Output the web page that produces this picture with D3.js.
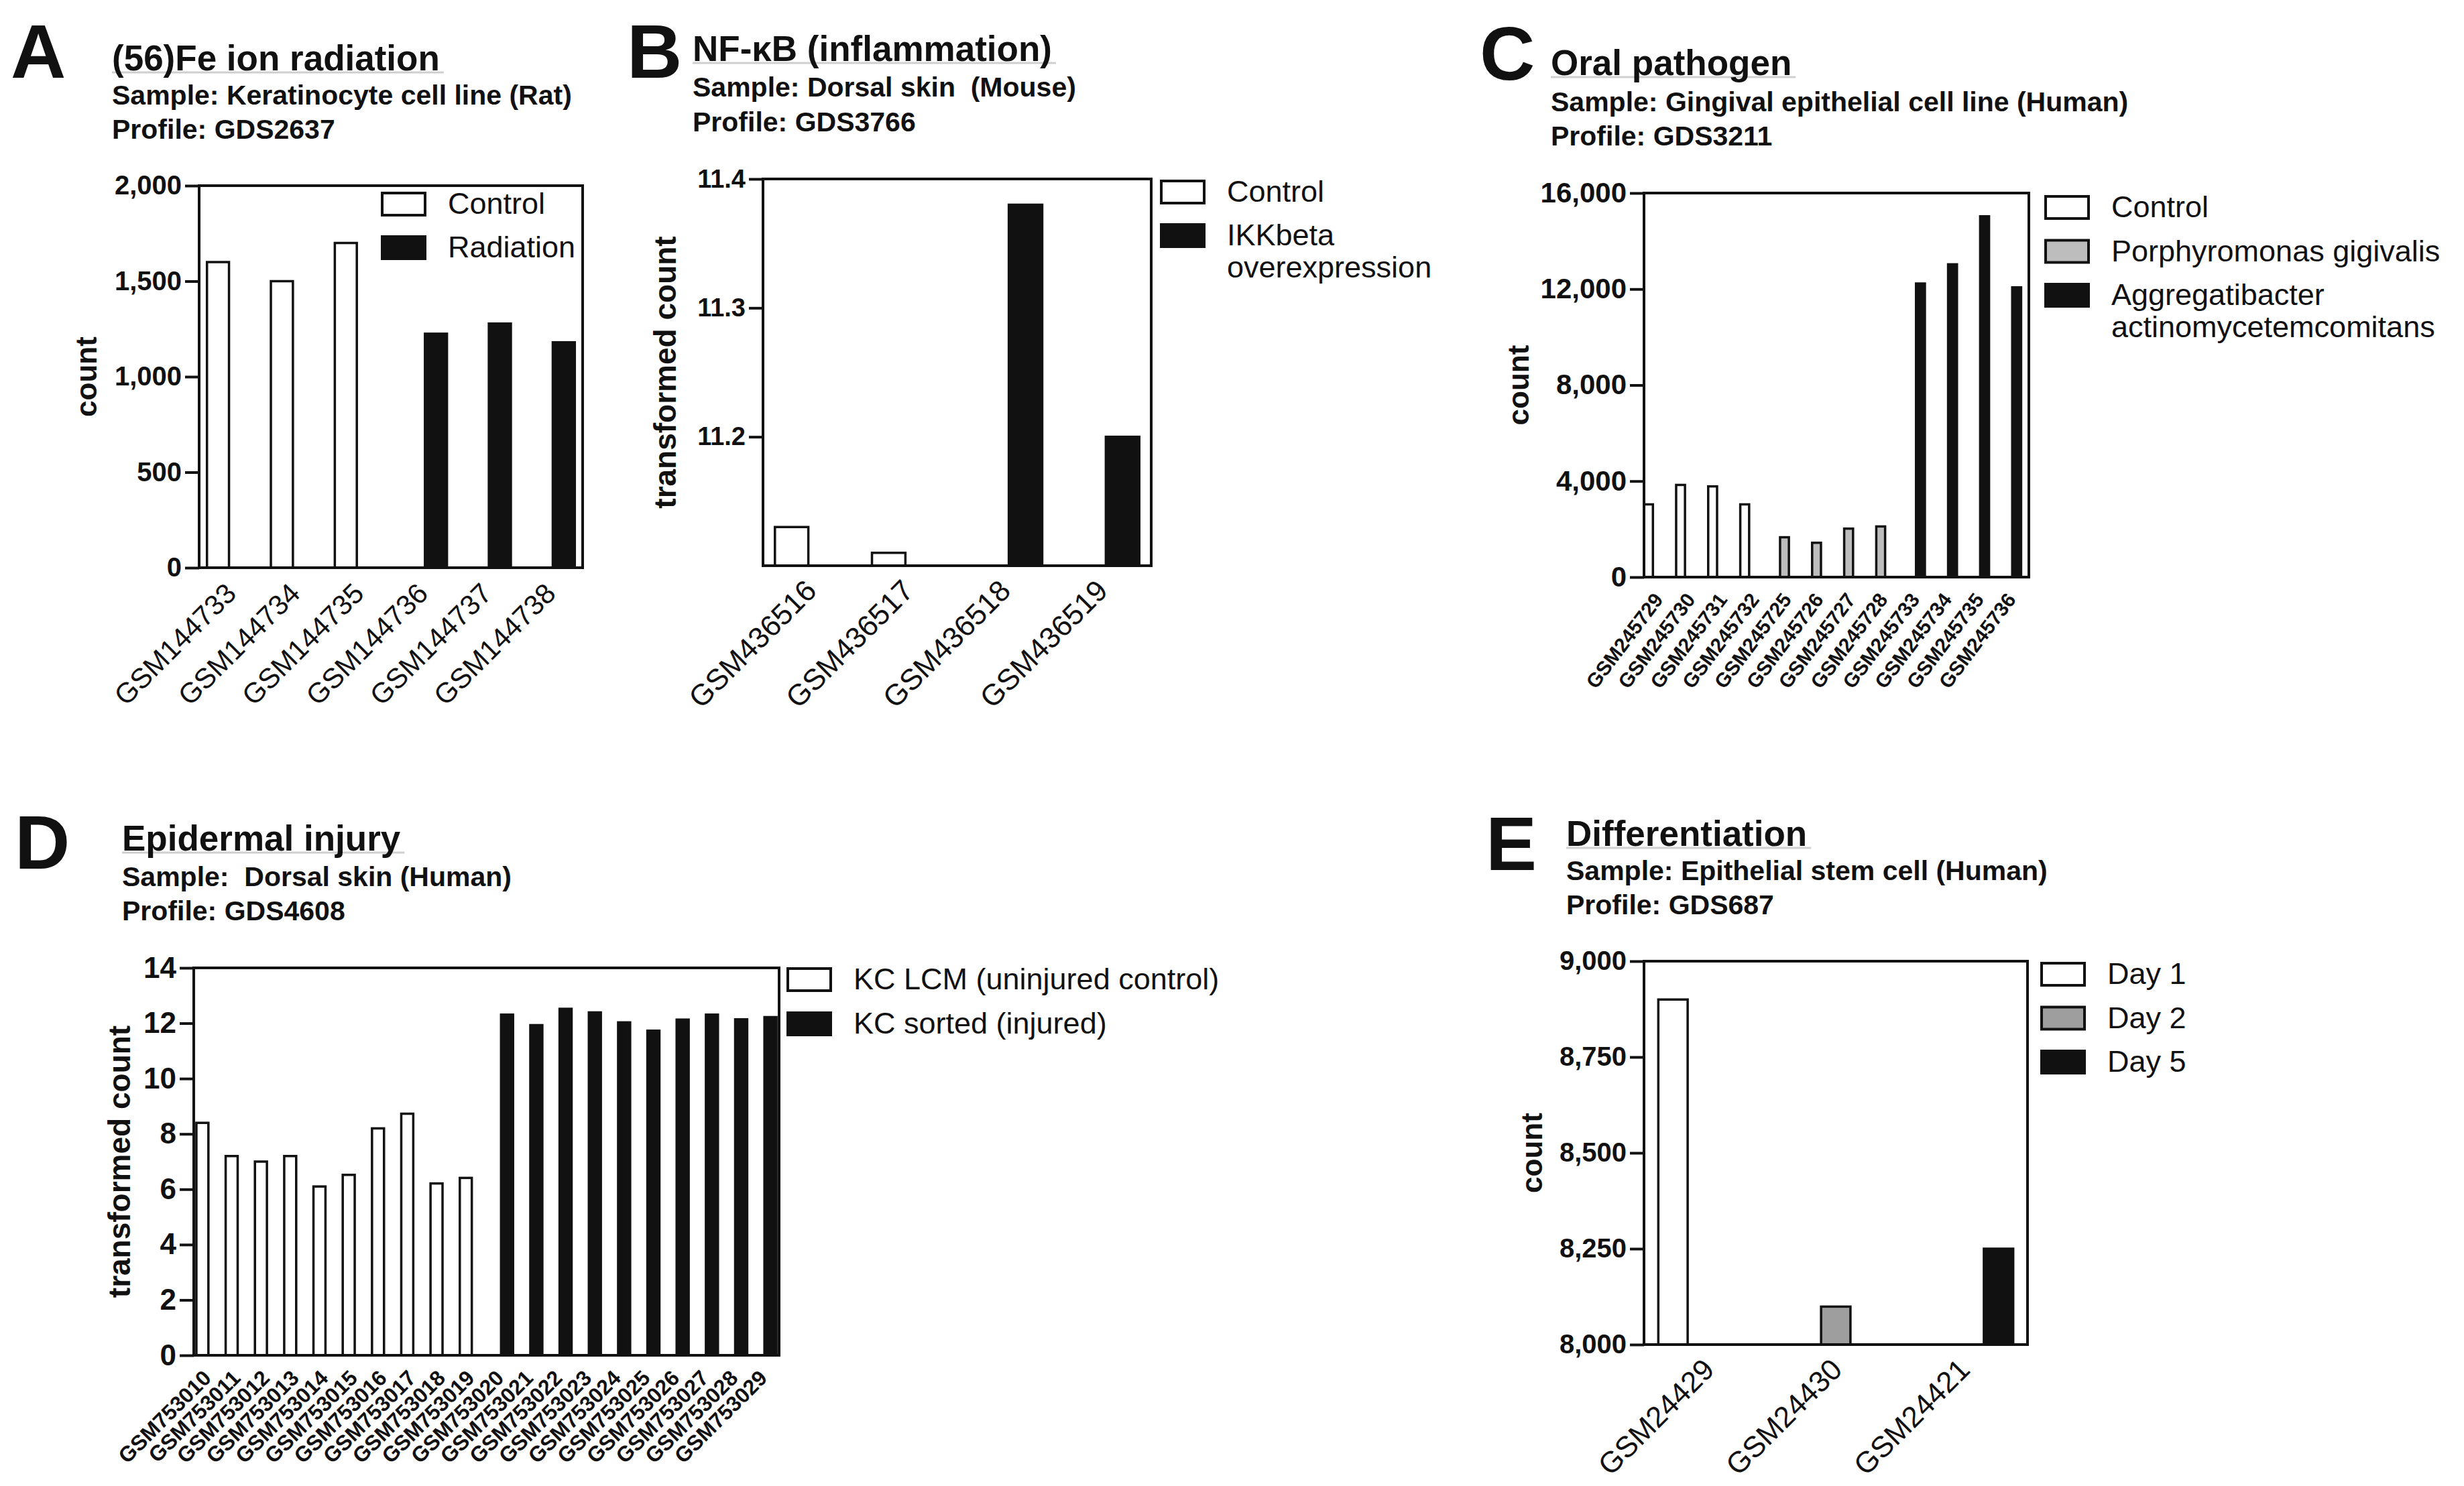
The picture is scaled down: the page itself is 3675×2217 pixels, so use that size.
<!DOCTYPE html>
<html>
<head>
<meta charset="utf-8">
<script src="https://cdn.jsdelivr.net/npm/d3@7"></script>
<style>
body { margin: 0; background: #fff; }
text { font-family: "Liberation Sans", Arial, sans-serif; fill: #111; white-space: pre; }
</style>
</head>
<body>
<svg id="fig"></svg>
<script>
'use strict'

// ---- A: (56)Fe ion radiation ----
var samplesA = ["GSM144733", "GSM144734", "GSM144735", "GSM144736", "GSM144737", "GSM144738"];
var groupsA = ["Control", "Radiation"];
var seriesA = ["Control", "Control", "Control", "Radiation", "Radiation", "Radiation"];
var valuesA = [1600, 1500, 1700, 1225, 1278, 1180];
var ticksA = [0, 500, 1000, 1500, 2000];

// ---- B: NF-kB ----
var samplesB = ["GSM436516", "GSM436517", "GSM436518", "GSM436519"];
var groupsB = ["Control", "IKKbeta\noverexpression"];
var seriesB = ["Control", "Control", "IKKbeta\noverexpression", "IKKbeta\noverexpression"];
var valuesB = [11.13, 11.11, 11.38, 11.20];
var ticksB = [11.2, 11.3, 11.4];

// ---- C: oral pathogen ----
var samplesC = ["GSM245729", "GSM245730", "GSM245731", "GSM245732", "GSM245725", "GSM245726",
	"GSM245727", "GSM245728", "GSM245733", "GSM245734", "GSM245735", "GSM245736"];
var groupsC = ["Control", "Porphyromonas gigivalis", "Aggregatibacter\nactinomycetemcomitans"];
var seriesC = ["Control", "Control", "Control", "Control",
	"Porphyromonas gigivalis", "Porphyromonas gigivalis", "Porphyromonas gigivalis", "Porphyromonas gigivalis",
	"Aggregatibacter\nactinomycetemcomitans", "Aggregatibacter\nactinomycetemcomitans",
	"Aggregatibacter\nactinomycetemcomitans", "Aggregatibacter\nactinomycetemcomitans"];
var valuesC = [3030, 3840, 3780, 3030, 1660, 1430, 2020, 2110, 12230, 13030, 15030, 12070];
var ticksC = [0, 4000, 8000, 12000, 16000];

// ---- D: epidermal injury ----
var samplesD = ["GSM753010", "GSM753011", "GSM753012", "GSM753013", "GSM753014", "GSM753015", "GSM753016",
	"GSM753017", "GSM753018", "GSM753019", "GSM753020", "GSM753021", "GSM753022", "GSM753023", "GSM753024",
	"GSM753025", "GSM753026", "GSM753027", "GSM753028", "GSM753029"];
var groupsD = ["KC LCM (uninjured control)", "KC sorted (injured)"];
var seriesD = ["KC LCM (uninjured control)", "KC LCM (uninjured control)", "KC LCM (uninjured control)",
	"KC LCM (uninjured control)", "KC LCM (uninjured control)", "KC LCM (uninjured control)",
	"KC LCM (uninjured control)", "KC LCM (uninjured control)", "KC LCM (uninjured control)",
	"KC LCM (uninjured control)", "KC sorted (injured)", "KC sorted (injured)", "KC sorted (injured)",
	"KC sorted (injured)", "KC sorted (injured)", "KC sorted (injured)", "KC sorted (injured)",
	"KC sorted (injured)", "KC sorted (injured)", "KC sorted (injured)"];
var valuesD = [8.40, 7.20, 7.00, 7.20, 6.10, 6.52, 8.20, 8.73, 6.21, 6.41,
	12.31, 11.93, 12.52, 12.39, 12.03, 11.73, 12.13, 12.31, 12.14, 12.22];
var ticksD = [0, 2, 4, 6, 8, 10, 12, 14];

// ---- E: differentiation ----
var samplesE = ["GSM24429", "GSM24430", "GSM24421"];
var groupsE = ["Day 1", "Day 2", "Day 5"];
var seriesE = ["Day 1", "Day 2", "Day 5"];
var valuesE = [8900, 8099, 8250];
var ticksE = [8000, 8250, 8500, 8750, 9000];


var WIDTH = 3675,
	HEIGHT = 2217;

var panels = [
	{
		letter: "A", title: "(56)Fe ion radiation",
		sample: "Sample: Keratinocyte cell line (Rat)", profile: "Profile: GDS2637",
		samples: samplesA, groups: groupsA, series: seriesA, values: valuesA, ticks: ticksA,
		domain: [0, 2000], fmt: d3.format(","), ylabel: "count",
		colors: ["#ffffff", "#111111"],
		head: { lx: 16, ly: 116, x: 167, ty: 105, sy: 156, py: 207 },
		frame: { l: 297, r: 869, t: 277, b: 847 },
		legend: { x: 570, y: 288, step: 65 },
		ylabelX: 144, ylabelSize: 44, tickFont: 40,
		xFont: 42, xWeight: "normal", xdx: 10, xdy: 41, xrot: -45,
		sub: [0.09, 0.91], barFrac: 0.84
	},
	{
		letter: "B", title: "NF-\u03baB (inflammation)",
		sample: "Sample: Dorsal skin  (Mouse)", profile: "Profile: GDS3766",
		samples: samplesB, groups: groupsB, series: seriesB, values: valuesB, ticks: ticksB,
		domain: [11.1, 11.4], fmt: d3.format(".1f"), ylabel: "transformed count",
		colors: ["#ffffff", "#111111"],
		head: { lx: 935, ly: 116, x: 1033, ty: 91, sy: 144, py: 196 },
		frame: { l: 1138, r: 1717, t: 267, b: 844 },
		legend: { x: 1732, y: 270, step: 65 },
		ylabelX: 1008, ylabelSize: 46, tickFont: 38,
		xFont: 44, xWeight: "normal", xdx: 10, xdy: 40, xrot: -45,
		sub: [0.09, 0.91], barFrac: 0.84
	},
	{
		letter: "C", title: "Oral pathogen",
		sample: "Sample: Gingival epithelial cell line (Human)", profile: "Profile: GDS3211",
		samples: samplesC, groups: groupsC, series: seriesC, values: valuesC, ticks: ticksC,
		domain: [0, 16000], fmt: d3.format(","), ylabel: "count",
		colors: ["#ffffff", "#bdbdbd", "#111111"],
		head: { lx: 2207, ly: 119, x: 2313, ty: 112, sy: 166, py: 217 },
		frame: { l: 2452, r: 3026, t: 288, b: 861 },
		legend: { x: 3051, y: 293, step: 65.5 },
		ylabelX: 2280, ylabelSize: 44, tickFont: 42,
		xFont: 30, xWeight: "bold", xdx: 6, xdy: 34, xrot: -53,
		sub: [0.02, 0.74], barFrac: 1.15
	},
	{
		letter: "D", title: "Epidermal injury",
		sample: "Sample:  Dorsal skin (Human)", profile: "Profile: GDS4608",
		samples: samplesD, groups: groupsD, series: seriesD, values: valuesD, ticks: ticksD,
		domain: [0, 14], fmt: d3.format("d"), ylabel: "transformed count",
		colors: ["#ffffff", "#111111"],
		head: { lx: 22, ly: 1296, x: 182, ty: 1269, sy: 1322, py: 1373 },
		frame: { l: 289, r: 1162, t: 1444, b: 2022 },
		legend: { x: 1175, y: 1445, step: 66 },
		ylabelX: 194, ylabelSize: 46, tickFont: 44,
		xFont: 32, xWeight: "bold", xdx: 6, xdy: 36, xrot: -45,
		sub: [0.09, 0.91], barFrac: 1.0
	},
	{
		letter: "E", title: "Differentiation",
		sample: "Sample: Epithelial stem cell (Human)", profile: "Profile: GDS687",
		samples: samplesE, groups: groupsE, series: seriesE, values: valuesE, ticks: ticksE,
		domain: [8000, 9000], fmt: d3.format(","), ylabel: "count",
		colors: ["#ffffff", "#9e9e9e", "#111111"],
		head: { lx: 2216, ly: 1298, x: 2336, ty: 1262, sy: 1313, py: 1364 },
		frame: { l: 2452, r: 3024, t: 1434, b: 2006 },
		legend: { x: 3045, y: 1437, step: 65.5 },
		ylabelX: 2300, ylabelSize: 44, tickFont: 40,
		xFont: 44, xWeight: "normal", xdx: 12, xdy: 40, xrot: -45,
		sub: [0.09, 0.91], barFrac: 0.84
	}
];

var svg = d3.select("#fig")
	.attr("width", WIDTH)
	.attr("height", HEIGHT)

svg.append("rect")
	.attr("width", WIDTH)
	.attr("height", HEIGHT)
	.attr("fill", "#fff")

panels.forEach(drawPanel);

function drawPanel(p) {
	var g = svg.append("g");
	var h = p.head;

	// panel letter and headings
	g.append("text")
		.attr("x", h.lx).attr("y", h.ly)
		.style("font-size", "114px").style("font-weight", "bold")
		.text(p.letter)

	var title = g.append("text")
		.attr("x", h.x).attr("y", h.ty)
		.style("font-size", "53px").style("font-weight", "bold")
		.text(p.title)
	var tw = title.node().getComputedTextLength();

	g.insert("line", "text")
		.attr("x1", h.x).attr("x2", h.x + tw + 6)
		.attr("y1", h.ty + 3).attr("y2", h.ty + 3)
		.attr("stroke", "#cfcfcf").attr("stroke-width", 3)

	g.append("text")
		.attr("x", h.x).attr("y", h.sy)
		.style("font-size", "41px").style("font-weight", "bold")
		.text(p.sample)

	g.append("text")
		.attr("x", h.x).attr("y", h.py)
		.style("font-size", "41px").style("font-weight", "bold")
		.text(p.profile)

	// scales
	var f = p.frame;
	var x0 = d3.scaleBand().domain(p.samples).range([f.l, f.r]);
	var x1 = d3.scaleBand().domain(p.groups)
		.range([x0.bandwidth() * p.sub[0], x0.bandwidth() * p.sub[1]]);
	var y = d3.scaleLinear().domain(p.domain).range([f.b, f.t]);

	// bars
	g.append("g").selectAll("rect")
		.data(p.values)
		.join("rect")
		.attr("x", function (d, i) {
			return x0(p.samples[i]) + x1(p.series[i]) + x1.bandwidth() * (1 - p.barFrac) / 2;
		})
		.attr("width", x1.bandwidth() * p.barFrac)
		.attr("y", function (d) { return y(d); })
		.attr("height", function (d) { return y(p.domain[0]) - y(d); })
		.attr("fill", function (d, i) { return p.colors[p.groups.indexOf(p.series[i])]; })
		.attr("stroke", "#111")
		.attr("stroke-width", 3.5)

	// frame
	g.append("rect")
		.attr("x", f.l).attr("y", f.t)
		.attr("width", f.r - f.l).attr("height", f.b - f.t)
		.attr("fill", "none")
		.attr("stroke", "#111")
		.attr("stroke-width", 4)

	// y axis
	var ya = g.append("g")
		.attr("transform", "translate(" + f.l + ",0)")
		.call(d3.axisLeft(y).tickValues(p.ticks).tickFormat(p.fmt).tickSize(21).tickPadding(5))
	ya.select(".domain").remove();
	ya.selectAll("line").attr("stroke", "#111").attr("stroke-width", 4);
	ya.selectAll("text")
		.attr("fill", "#111")
		.style("font-size", p.tickFont + "px")
		.style("font-weight", "bold")

	// x axis (rotated sample names, no ticks)
	var xa = g.append("g")
		.attr("transform", "translate(0," + f.b + ")")
		.call(d3.axisBottom(x0).tickSize(0))
	xa.select(".domain").remove();
	xa.selectAll("text")
		.attr("y", null).attr("dy", null)
		.attr("fill", "#111")
		.attr("text-anchor", "end")
		.attr("transform", "translate(" + p.xdx + "," + p.xdy + ") rotate(" + p.xrot + ")")
		.style("font-size", p.xFont + "px")
		.style("font-weight", p.xWeight)

	// y label
	g.append("text")
		.attr("transform", "translate(" + p.ylabelX + "," + (f.t + f.b) / 2 + ") rotate(-90)")
		.attr("text-anchor", "middle")
		.style("font-size", p.ylabelSize + "px")
		.style("font-weight", "bold")
		.text(p.ylabel)

	// legend
	var lg = g.append("g");
	p.groups.forEach(function (name, k) {
		var top = p.legend.y + k * p.legend.step;
		lg.append("rect")
			.attr("x", p.legend.x).attr("y", top)
			.attr("width", 64).attr("height", 33)
			.attr("fill", p.colors[k])
			.attr("stroke", "#111")
			.attr("stroke-width", 4)
		name.split("\n").forEach(function (line, j) {
			lg.append("text")
				.attr("x", p.legend.x + 98)
				.attr("y", top + 31 + j * 48)
				.style("font-size", "45px")
				.text(line)
		});
	});
}
</script>
</body>
</html>
